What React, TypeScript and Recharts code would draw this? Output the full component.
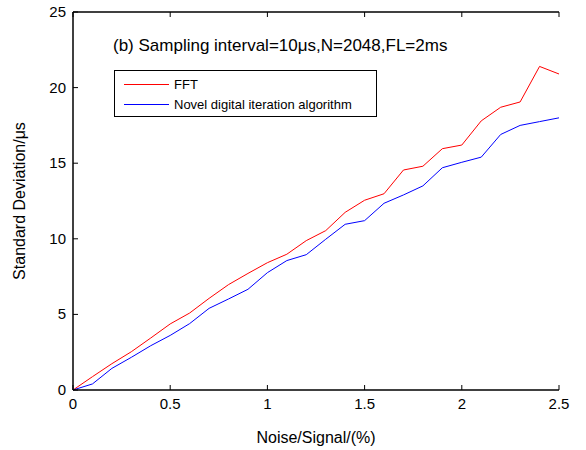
import { LineChart, Line, XAxis, YAxis, Label } from "recharts";

const noiseRatio = [0, 0.1, 0.2, 0.3, 0.4, 0.5, 0.6, 0.7, 0.8, 0.9, 1.0, 1.1, 1.2, 1.3, 1.4, 1.5, 1.6, 1.7, 1.8, 1.9, 2.0, 2.1, 2.2, 2.3, 2.4, 2.5];
const fftStd = [0, 0.88, 1.74, 2.53, 3.44, 4.37, 5.09, 6.06, 6.97, 7.71, 8.42, 8.98, 9.88, 10.54, 11.75, 12.55, 12.98, 14.55, 14.8, 15.96, 16.2, 17.8, 18.7, 19.05, 21.4, 20.9];
const novelStd = [0, 0.4, 1.43, 2.16, 2.93, 3.61, 4.39, 5.4, 6.02, 6.66, 7.76, 8.56, 8.95, 9.97, 10.96, 11.2, 12.35, 12.9, 13.5, 14.7, 15.06, 15.4, 16.9, 17.5, 17.75, 18.0];
const xTicks = [0, 0.5, 1, 1.5, 2, 2.5];
const yTicks = [0, 5, 10, 15, 20, 25];

const data = noiseRatio.map((x, i) => ({ x, fft: fftStd[i], novel: novelStd[i] }));

const FONT = "'Liberation Sans', Arial, sans-serif";
const TICK_LEN = 5;
const AXIS = { stroke: "#000", strokeWidth: 1.5 };

function BottomTick({ x, y, payload }: any) {
  return (
    <g>
      <line x1={x} y1={y} x2={x} y2={y - TICK_LEN} stroke="#000" />
      <text x={x} y={y + 19} textAnchor="middle" fontSize={15} fontFamily={FONT} fill="#000">
        {payload.value}
      </text>
    </g>
  );
}

function TopTick({ x, y }: any) {
  return <line x1={x} y1={y} x2={x} y2={y + TICK_LEN} stroke="#000" />;
}

function LeftTick({ x, y, payload }: any) {
  return (
    <g>
      <line x1={x} y1={y} x2={x + TICK_LEN} y2={y} stroke="#000" />
      <text x={x - 7} y={y + 5} textAnchor="end" fontSize={15} fontFamily={FONT} fill="#000">
        {payload.value}
      </text>
    </g>
  );
}

function RightTick({ x, y }: any) {
  return <line x1={x} y1={y} x2={x - TICK_LEN} y2={y} stroke="#000" />;
}

function LegendBox() {
  return (
    <div
      style={{
        position: "absolute",
        left: 114,
        top: 70,
        border: "1px solid #000",
        background: "#fff",
        width: 263,
        height: 47,
        boxSizing: "border-box",
        fontFamily: FONT,
        fontSize: 13,
        color: "#000",
        padding: "3px 0 0 9px",
      }}
    >
      <div style={{ display: "flex", alignItems: "center", height: 20 }}>
        <span style={{ width: 45, height: 1, background: "#ff0000", marginRight: 5 }} />
        FFT
      </div>
      <div style={{ display: "flex", alignItems: "center", height: 20 }}>
        <span style={{ width: 45, height: 1, background: "#0000ff", marginRight: 5 }} />
        Novel digital iteration algorithm
      </div>
    </div>
  );
}

export default function App() {
  return (
    <div style={{ position: "absolute", left: 0, top: 0, width: 586, height: 450, background: "#fff" }}>
      <LineChart width={586} height={450} data={data} margin={{ top: 11, right: 27, bottom: 0, left: 0 }}>
        <XAxis
          xAxisId="bottom"
          dataKey="x"
          type="number"
          domain={[0, 2.5]}
          ticks={xTicks}
          height={60}
          tickSize={0}
          tickMargin={0}
          tickLine={false}
          axisLine={AXIS}
          tick={<BottomTick />}
          interval={0}
        >
          <Label
            content={({ viewBox }: any) => (
              <text
                x={viewBox.x + viewBox.width / 2}
                y={443}
                textAnchor="middle"
                fontSize={16}
                fontFamily={FONT}
                fill="#000"
              >
                Noise/Signal/(%)
              </text>
            )}
          />
        </XAxis>
        <XAxis
          xAxisId="top"
          orientation="top"
          dataKey="x"
          type="number"
          domain={[0, 2.5]}
          allowDataOverflow
          ticks={xTicks}
          height={1}
          tickSize={0}
          tickMargin={0}
          tickLine={false}
          axisLine={AXIS}
          tick={<TopTick />}
          interval={0}
        />
        <YAxis
          yAxisId="left"
          type="number"
          domain={[0, 25]}
          ticks={yTicks}
          width={73}
          tickSize={0}
          tickMargin={0}
          tickLine={false}
          axisLine={AXIS}
          tick={<LeftTick />}
          interval={0}
        >
          <Label
            content={({ viewBox }: any) => {
              const cy = viewBox.y + viewBox.height / 2;
              return (
                <text
                  x={25}
                  y={cy}
                  transform={`rotate(-90 25 ${cy})`}
                  textAnchor="middle"
                  fontSize={16}
                  fontFamily={FONT}
                  fill="#000"
                >
                  Standard Deviation/μs
                </text>
              );
            }}
          />
        </YAxis>
        <YAxis
          yAxisId="right"
          orientation="right"
          type="number"
          domain={[0, 25]}
          allowDataOverflow
          ticks={yTicks}
          width={0}
          tickSize={0}
          tickMargin={0}
          tickLine={false}
          axisLine={AXIS}
          tick={<RightTick />}
          interval={0}
        />
        <Line
          xAxisId="bottom"
          yAxisId="left"
          dataKey="fft"
          name="FFT"
          stroke="#ff0000"
          strokeWidth={1}
          dot={false}
          isAnimationActive={false}
        />
        <Line
          xAxisId="bottom"
          yAxisId="left"
          dataKey="novel"
          name="Novel digital iteration algorithm"
          stroke="#0000ff"
          strokeWidth={1}
          dot={false}
          isAnimationActive={false}
        />
      </LineChart>
      <div
        style={{
          position: "absolute",
          left: 113,
          top: 36,
          fontFamily: FONT,
          fontSize: 17,
          lineHeight: "20px",
          color: "#000",
          whiteSpace: "nowrap",
        }}
      >
        (b) Sampling interval=10μs,N=2048,FL=2ms
      </div>
      <LegendBox />
    </div>
  );
}
